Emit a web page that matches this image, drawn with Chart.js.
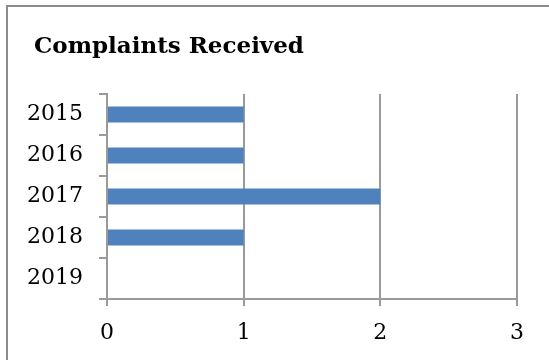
<!DOCTYPE html>
<html>
<head>
<meta charset="utf-8">
<script src="https://cdn.jsdelivr.net/npm/chart.js@4/dist/chart.umd.min.js"></script>
<style>
  html, body { margin: 0; padding: 0; background: #fff; overflow: hidden; }
  canvas { display: block; }
</style>
</head>
<body>
<canvas id="c" width="549" height="360"></canvas>
<script>
const titleText = "Complaints Received";
const categories = ["2015", "2016", "2017", "2018", "2019"];
const complaints = [1, 1, 2, 1, 0];
const xTicks = [0, 1, 2, 3];

const FONT = "'DejaVu Serif', 'Liberation Serif', serif";
const GRID = "#9a9a9a";

const framePlugin = {
  id: "frameAndTitle",
  beforeDraw(chart) {
    const ctx = chart.ctx;
    ctx.save();
    ctx.fillStyle = "#fff";
    ctx.fillRect(0, 0, chart.width, chart.height);
    ctx.strokeStyle = "#8c8c8c";
    ctx.lineWidth = 2;
    ctx.beginPath();
    ctx.moveTo(7, chart.height + 2);
    ctx.lineTo(7, 6);
    ctx.lineTo(chart.width + 2, 6);
    ctx.stroke();
    ctx.restore();
  },
  afterDraw(chart) {
    const ctx = chart.ctx;
    ctx.save();
    ctx.font = "bold 23px " + FONT;
    ctx.fillStyle = "#000";
    ctx.textBaseline = "alphabetic";
    ctx.textAlign = "left";
    ctx.fillText(titleText, 34, 53);
    ctx.restore();
  }
};

new Chart(document.getElementById("c"), {
  type: "bar",
  data: {
    labels: categories,
    datasets: [{
      data: complaints,
      backgroundColor: "#4F81BD",
      borderWidth: 0,
      barPercentage: 0.39,
      categoryPercentage: 1.0
    }]
  },
  options: {
    indexAxis: "y",
    responsive: false,
    animation: false,
    devicePixelRatio: 1,
    layout: { padding: { top: 94, left: 0, right: 32, bottom: 0 } },
    plugins: { legend: { display: false }, title: { display: false }, tooltip: { enabled: false } },
    scales: {
      x: {
        min: 0, max: 3,
        afterBuildTicks(scale) { scale.ticks = xTicks.map(v => ({ value: v })); },
        afterFit(scale) { scale.height = 61; },
        grid: { color: GRID, lineWidth: 2, drawOnChartArea: true, tickLength: 7, drawTicks: true },
        border: { display: true, color: GRID, width: 2 },
        ticks: { color: "#000", font: { family: FONT, size: 22 }, padding: 14 }
      },
      y: {
        afterFit(scale) { scale.width = 107; },
        grid: { color: GRID, lineWidth: 2, drawOnChartArea: false, tickLength: 8, offset: true },
        border: { display: true, color: GRID, width: 2 },
        ticks: { color: "#000", font: { family: FONT, size: 22 }, padding: 16 }
      }
    }
  },
  plugins: [framePlugin]
});
</script>
</body>
</html>
